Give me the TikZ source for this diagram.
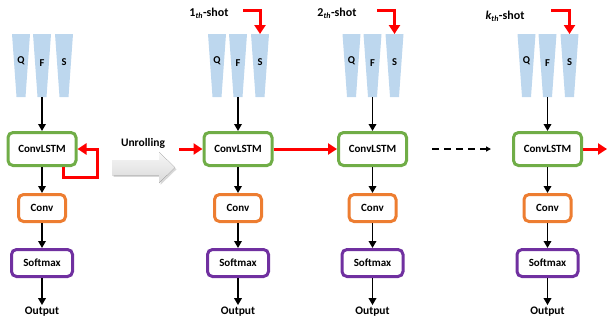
\documentclass[tikz,border=0pt]{standalone}
\usepackage{fontspec}
\setmainfont{Carlito}
\usetikzlibrary{arrows.meta,shadows}
\definecolor{trapblue}{HTML}{BDD7EE}
\definecolor{lstmgreen}{HTML}{70AD47}
\definecolor{convorange}{HTML}{ED7D31}
\definecolor{smpurple}{HTML}{7030A0}
\definecolor{redline}{HTML}{FF0000}
\tikzset{
  trapfill/.style={fill=trapblue, draw=none},
  letter/.style={font=\bfseries\fontsize{10.5}{12}\selectfont, inner sep=0pt},
  boxbase/.style={draw, rounded corners=5pt, line width=3pt, fill=white,
    inner sep=0pt, font=\bfseries\fontsize{11}{13}\selectfont},
  lstmbox/.style={boxbase, draw=lstmgreen, minimum width=68pt, minimum height=33pt},
  convbox/.style={boxbase, draw=convorange, minimum width=47pt, minimum height=27pt},
  smbox/.style={boxbase, draw=smpurple, minimum width=61pt, minimum height=27pt},
  txt/.style={font=\bfseries\fontsize{11.5}{13}\selectfont, inner sep=2pt},
  shottxt/.style={font=\bfseries\fontsize{12}{14}\selectfont, inner sep=2pt},
  blackarr/.style={line width=1.7pt, -{Triangle[length=7pt,width=7.5pt]}},
  redarr/.style={draw=redline, line width=3pt, -{Triangle[length=9pt,width=11pt]}, color=redline},
}
\begin{document}
\begin{tikzpicture}[x=1pt,y=-1pt]
\useasboundingbox (0,0) rectangle (607,327);

% columns
\foreach \n/\c in {1/42,2/238,3/372.5,4/547.5}{
  \foreach \nm/\d in {q/-21,f/0,s/22}{
    \fill[trapfill] (\c+\d-9,34) -- (\c+\d+9,34) -- (\c+\d+4.5,97) -- (\c+\d-4.5,97) -- cycle;
    \coordinate (\nm top\n) at (\c+\d,34);
    \coordinate (\nm bot\n) at (\c+\d,97);
  }
  \node[letter] (q\n) at (\c-21,61) {Q};
  \node[letter] (f\n) at (\c,63) {F};
  \node[letter] (s\n) at (\c+22,62) {S};
  \node[lstmbox] (l\n) at (\c,149) {ConvLSTM};
  \node[convbox] (c\n) at (\c,208) {Conv};
  \node[smbox] (m\n) at (\c,263) {Softmax};
  \node[txt] (o\n) at (\c,312) {Output};
  \draw[blackarr] (fbot\n) -- (l\n.north);
  \draw[blackarr] (l\n.south) -- (c\n.north);
  \draw[blackarr] (c\n.south) -- (m\n.north);
  \draw[blackarr] (m\n.south) -- (o\n.north);
}

% recurrent loop
\draw[redarr] ([xshift=21pt]l1.south) -- ++(0,10) -- ++(34,0) |- (l1.east);

% unrolling arrow
\node[txt] (unr) at (143,143) {Unrolling};
\fill[top color=gray!6, bottom color=gray!30, drop shadow={shadow xshift=1.5pt, shadow yshift=-1.8pt, fill=gray!60}]
  (112,160) -- (159,160) -- (159,152) -- (175,167.5) -- (159,183) -- (159,175) -- (112,175) -- cycle;

% shot labels and arrows
\node[shottxt] (t2) at (209,13) {1\textsubscript{\itshape th}-shot};
\node[shottxt] (t3) at (337,13) {2\textsubscript{\itshape th}-shot};
\node[shottxt] (t4) at (505,16.5) {\textit{k}\textsubscript{\itshape th}-shot};
\coordinate (r2) at (243,10.5);
\coordinate (r3) at (377,10.5);
\coordinate (r4) at (551,10.5);
\draw[redarr] (r2) -| (stop2);
\draw[redarr] (r3) -| (stop3);
\draw[redarr] (r4) -| (stop4);

% horizontal connections
\coordinate (in2) at (179,149);
\draw[redarr] (in2) -- (l2.west);
\draw[redarr] (l2.east) -- (l3.west);
\coordinate (d1) at (432,149);
\coordinate (d2) at (491,149);
\draw[line width=1.4pt, dash pattern=on 7pt off 5pt, -{Triangle[length=5pt,width=5pt]}] (d1) -- (d2);
\coordinate (out4) at (607,149);
\draw[redarr] (l4.east) -- (out4);
\end{tikzpicture}
\end{document}
